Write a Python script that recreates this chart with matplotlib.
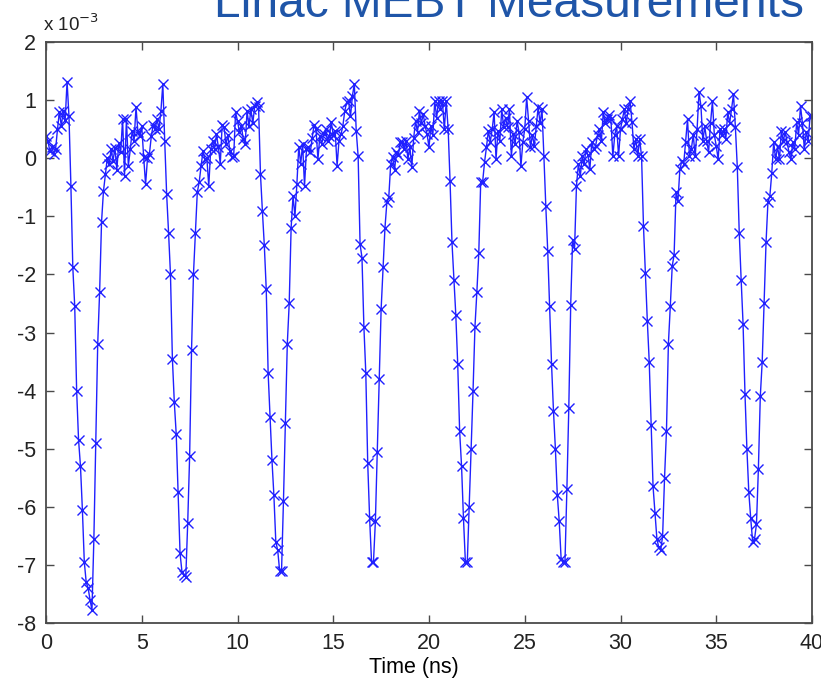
import numpy as np
import matplotlib
matplotlib.use('Agg')
from matplotlib import pyplot as plt

plt.rcParams['font.family'] = ['Liberation Sans', 'DejaVu Sans']
plt.rcParams['axes.unicode_minus'] = False

SAMPLE_NS = 0.1  # scope sampling interval

# signal, in units of 1e-3, one value per sample
signal = [
    0.38, 0.30, 0.12, 0.20, 0.08, 0.15, 0.50, 0.80, 0.55, 0.82,
    0.65, 1.32, 0.72, -0.47, -1.88, -2.55, -4.00, -4.85, -5.30, -6.05,
    -6.95, -7.30, -7.40, -7.60, -7.78, -6.55, -4.90, -3.20, -2.30, -1.10,
    -0.57, -0.28, 0.00, -0.10, 0.15, -0.05, 0.18, -0.20, 0.27, 0.10,
    0.67, -0.30, 0.67, -0.13, 0.15, 0.47, 0.30, 0.88, 0.45, 0.38,
    0.55, 0.02, -0.45, 0.00, 0.07, 0.38, 0.58, 0.50, 0.67, 0.50,
    0.81, 1.28, 0.29, -0.62, -1.28, -2.00, -3.45, -4.20, -4.75, -5.75,
    -6.80, -7.12, -7.17, -7.20, -6.28, -5.13, -3.30, -2.00, -1.28, -0.59,
    -0.41, -0.13, 0.12, -0.02, 0.00, -0.48, 0.15, 0.29, 0.15, 0.41,
    0.20, -0.10, 0.58, 0.53, 0.24, 0.40, 0.12, 0.02, 0.03, 0.79,
    0.64, 0.45, 0.55, 0.33, 0.24, 0.81, 0.55, 0.84, 0.60, 0.90,
    0.96, 0.88, -0.28, -0.91, -1.50, -2.25, -3.70, -4.45, -5.20, -5.80,
    -6.60, -6.75, -7.10, -7.10, -5.90, -4.55, -3.20, -2.50, -1.20, -0.65,
    -1.00, -0.45, 0.20, -0.10, 0.24, -0.48, 0.15, 0.20, 0.10, 0.35,
    0.58, 0.50, -0.02, 0.38, 0.25, 0.41, 0.50, 0.30, 0.38, 0.62,
    0.40, 0.47, -0.13, 0.30, 0.41, 0.55, 0.81, 0.96, 0.98, 0.72,
    1.07, 1.28, 0.47, 0.03, -1.48, -1.71, -2.90, -3.70, -5.25, -6.20,
    -6.95, -6.95, -6.25, -5.05, -3.80, -2.60, -1.88, -1.20, -0.76, -0.67,
    -0.10, 0.02, -0.20, 0.10, 0.05, 0.28, 0.28, 0.16, 0.30, -0.02,
    0.20, -0.16, 0.35, 0.64, 0.45, 0.81, 0.60, 0.76, 0.55, 0.41,
    0.19, 0.55, 0.40, 0.98, 0.70, 0.98, 0.85, 0.98, 0.50, 0.98,
    0.50, -0.40, -1.45, -2.09, -2.70, -3.55, -4.70, -5.30, -6.20, -6.95,
    -6.95, -6.00, -5.00, -4.00, -2.90, -2.30, -1.63, -0.41, -0.41, -0.07,
    0.19, 0.47, 0.28, 0.50, 0.79, -0.02, 0.47, 0.30, 0.84, 0.53,
    0.70, 0.53, 0.84, 0.03, 0.41, 0.25, 0.64, 0.45, -0.14, 0.28,
    0.50, 1.05, 0.64, 0.19, 0.40, 0.21, 0.55, 0.88, 0.60, 0.84,
    0.03, -0.83, -1.60, -2.55, -3.55, -4.35, -5.00, -5.80, -6.25, -6.90,
    -6.95, -6.95, -5.70, -4.30, -2.52, -1.40, -1.57, -0.48, -0.10, -0.31,
    0.03, -0.10, 0.16, 0.05, -0.19, 0.28, 0.15, 0.21, 0.40, 0.50,
    0.29, 0.79, 0.60, 0.67, 0.75, 0.67, 0.03, 0.40, 0.55, 0.03,
    0.50, 0.67, 0.84, 0.60, 0.84, 0.98, 0.62, 0.16, 0.33, 0.03,
    0.33, 0.03, -1.17, -1.97, -2.80, -3.50, -4.60, -5.65, -6.10, -6.55,
    -6.70, -6.75, -6.50, -5.50, -4.70, -3.20, -2.55, -1.86, -1.66, -0.59,
    -0.74, -0.19, -0.05, -0.10, 0.28, 0.67, 0.03, 0.16, 0.40, 0.03,
    0.50, 1.14, 0.90, 0.29, 0.55, 0.30, 0.10, 0.60, 0.98, 0.40,
    0.21, -0.02, 0.50, 0.40, 0.50, 0.33, 0.79, 0.60, 0.85, 1.10,
    0.53, -0.16, -1.28, -2.09, -2.85, -4.05, -5.00, -5.75, -6.20, -6.60,
    -6.55, -6.30, -5.35, -4.10, -3.50, -2.50, -1.45, -0.75, -0.65, -0.25,
    0.28, -0.02, 0.20, -0.02, 0.47, 0.30, 0.45, 0.28, 0.10, -0.02,
    0.28, 0.15, 0.62, 0.40, 0.90, 0.60, 0.16, 0.45, 0.30, 0.72,
    0.72,
]

x_ticks = [0, 5, 10, 15, 20, 25, 30, 35, 40]
y_ticks = [-8, -7, -6, -5, -4, -3, -2, -1, 0, 1, 2]

time_ns = np.arange(len(signal)) * SAMPLE_NS

fig = plt.figure(figsize=(8.21, 6.84), dpi=100)
ax = fig.add_axes([46 / 821, 1 - 623 / 684, 766 / 821, 581 / 684])

ax.plot(time_ns, signal, color='#2020ff', linewidth=1.0, marker='x',
        markersize=7, markeredgewidth=1.0)

ax.set_xlim(0, 40)
ax.set_ylim(-8, 2)
ax.set_xticks(x_ticks)
ax.set_yticks(y_ticks)
ax.set_xticklabels([str(v) for v in x_ticks])
ax.set_yticklabels([str(v) for v in y_ticks])
ax.tick_params(direction='in', length=6, width=1, colors='#4a4a4a',
               labelcolor='#222222', labelsize=15.5, top=True, right=True,
               pad=7)
for s in ax.spines.values():
    s.set_color('#4a4a4a')
    s.set_linewidth(1.3)

ax.set_xlabel('Time (ns)', fontsize=15.5)
ax.xaxis.set_label_coords((414 - 46) / 766, -(657 - 623) / 581)
fig.text(43 / 821, 1 - 31 / 684, r'x 10$^{-3}$', fontsize=13.5, ha='left',
         va='baseline', color='#222222')
fig.text(214 / 821, 1 - 17 / 684, 'Linac MEBT Measurements', fontsize=34.5,
         color='#1f55a8', ha='left', va='baseline')

plt.savefig('out.png', dpi=100)
